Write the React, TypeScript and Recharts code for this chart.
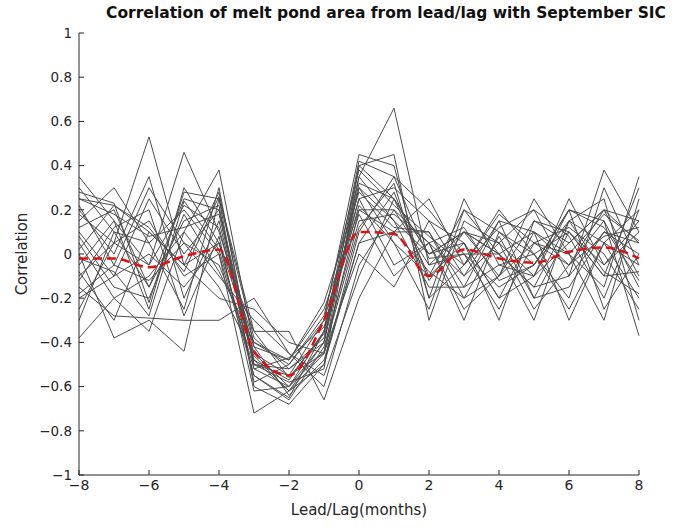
import React from "react";
import { LineChart, Line, XAxis, YAxis } from "recharts";

const lags = [-8, -7, -6, -5, -4, -3, -2, -1, 0, 1, 2, 3, 4, 5, 6, 7, 8];
const xTicks = [-8, -6, -4, -2, 0, 2, 4, 6, 8];
const yTicks = [-1, -0.8, -0.6, -0.4, -0.2, 0, 0.2, 0.4, 0.6, 0.8, 1];

// individual ensemble members (correlation per lead/lag month)
const run01 = [0.30, 0.10, -0.15, 0.25, 0.20, -0.45, -0.60, -0.40, 0.40, 0.25, -0.10, 0.05, -0.20, 0.10, -0.05, 0.20, 0.05];
const run02 = [0.25, 0.22, 0.10, -0.05, 0.28, -0.50, -0.55, -0.45, 0.35, 0.66, -0.05, 0.10, 0.00, -0.15, 0.15, 0.05, -0.20];
const run03 = [-0.10, 0.05, 0.53, -0.05, 0.05, -0.55, -0.65, -0.35, 0.25, 0.30, 0.15, -0.10, 0.05, 0.20, -0.10, 0.38, 0.10];
const run04 = [0.35, 0.15, -0.05, 0.46, 0.10, -0.40, -0.50, -0.30, 0.45, 0.40, -0.20, 0.25, -0.05, 0.00, 0.10, -0.10, 0.30];
const run05 = [-0.38, -0.20, -0.10, 0.10, 0.38, -0.42, -0.48, -0.25, 0.20, 0.20, 0.05, -0.30, 0.10, -0.05, 0.20, 0.15, -0.37];
const run06 = [0.00, -0.38, -0.30, -0.44, 0.25, -0.60, -0.68, -0.50, 0.10, 0.35, 0.20, 0.00, -0.25, 0.05, 0.00, -0.30, 0.25];
const run07 = [0.15, 0.30, 0.05, 0.20, 0.00, -0.72, -0.62, -0.40, 0.30, 0.15, -0.15, -0.15, 0.15, -0.20, -0.15, 0.10, 0.00];
const run08 = [-0.15, -0.28, -0.29, -0.30, -0.30, -0.20, -0.45, -0.55, -0.10, 0.25, 0.00, 0.05, -0.30, 0.15, 0.05, 0.20, -0.10];
const run09 = [0.20, 0.00, 0.35, -0.20, 0.15, -0.50, -0.58, -0.52, 0.40, 0.45, -0.30, 0.15, 0.05, -0.10, 0.25, -0.05, 0.15];
const run10 = [-0.05, 0.15, -0.25, 0.30, 0.05, -0.35, -0.35, -0.66, -0.20, 0.10, 0.25, -0.05, 0.20, 0.00, -0.20, 0.30, -0.05];
const run11 = [0.10, -0.10, 0.25, 0.00, 0.20, -0.48, -0.62, -0.45, 0.20, 0.10, 0.10, -0.20, -0.10, 0.25, 0.00, -0.15, 0.35];
const run12 = [0.28, 0.23, -0.22, 0.28, 0.25, -0.38, -0.52, -0.38, 0.30, 0.05, -0.25, 0.20, 0.00, -0.30, 0.15, 0.25, -0.30];
const run13 = [-0.25, 0.05, 0.15, -0.10, 0.00, -0.55, -0.66, -0.42, 0.15, 0.18, 0.05, -0.10, 0.15, 0.10, -0.30, 0.05, 0.20];
const run14 = [0.05, -0.20, -0.35, 0.10, -0.10, -0.30, -0.45, -0.60, -0.05, 0.20, -0.05, 0.00, -0.15, -0.05, 0.20, -0.25, 0.00];
const run15 = [-0.30, 0.10, 0.05, -0.25, 0.30, -0.52, -0.60, -0.35, 0.35, 0.15, 0.00, 0.10, 0.05, -0.25, -0.05, 0.15, -0.15];
const run16 = [0.22, -0.05, 0.30, 0.05, -0.05, -0.45, -0.55, -0.30, 0.25, -0.05, 0.05, -0.25, -0.10, 0.15, 0.10, -0.05, 0.10];
const run17 = [-0.20, -0.10, 0.00, -0.15, 0.05, -0.42, -0.64, -0.48, 0.05, 0.28, -0.12, 0.10, 0.00, -0.15, -0.10, 0.10, 0.05];
const run18 = [0.12, 0.20, -0.15, 0.15, 0.22, -0.58, -0.50, -0.28, 0.38, 0.22, 0.08, -0.05, 0.18, 0.05, 0.12, 0.00, -0.25];
const run19 = [-0.08, -0.30, 0.10, -0.05, -0.20, -0.25, -0.40, -0.45, 0.00, -0.15, 0.15, 0.05, -0.20, -0.10, 0.05, 0.20, 0.15];
const run20 = [0.18, 0.05, -0.05, 0.22, 0.12, -0.48, -0.57, -0.35, 0.22, 0.05, -0.10, 0.20, 0.10, 0.00, -0.25, 0.05, -0.05];
const run21 = [-0.12, 0.12, 0.20, -0.28, 0.08, -0.62, -0.60, -0.44, 0.12, 0.32, -0.20, -0.05, 0.12, 0.20, 0.08, -0.20, 0.20];
const run22 = [0.08, -0.15, -0.20, 0.18, -0.08, -0.40, -0.48, -0.22, 0.28, 0.12, 0.10, -0.15, -0.05, -0.10, 0.20, 0.12, -0.12];
const run23 = [0.25, 0.18, 0.08, 0.12, 0.18, -0.50, -0.52, -0.40, 0.32, 0.25, 0.00, 0.10, -0.10, 0.05, -0.05, 0.08, 0.12];
const run24 = [-0.18, -0.05, -0.12, 0.05, -0.15, -0.46, -0.62, -0.50, 0.05, 0.10, -0.08, -0.20, 0.08, -0.20, 0.10, -0.10, -0.08];
const run25 = [0.02, 0.22, 0.12, -0.08, 0.26, -0.35, -0.56, -0.36, 0.42, 0.35, -0.02, 0.00, 0.00, 0.10, 0.00, 0.18, 0.06];
const run26 = [-0.02, -0.08, -0.28, 0.24, 0.02, -0.52, -0.47, -0.33, 0.18, -0.10, 0.05, 0.12, -0.12, -0.05, 0.15, -0.08, -0.18];

// ensemble mean (red dashed)
const ensembleMean = [-0.02, -0.02, -0.06, -0.01, 0.02, -0.44, -0.55, -0.30, 0.10, 0.09, -0.10, 0.02, -0.02, -0.04, 0.01, 0.03, -0.02];

const runs = [
  run01, run02, run03, run04, run05, run06, run07, run08, run09, run10, run11, run12, run13,
  run14, run15, run16, run17, run18, run19, run20, run21, run22, run23, run24, run25, run26,
];

const chartData = lags.map((lag, i) => {
  const row: Record<string, number> = { lag, mean: ensembleMean[i] };
  runs.forEach((run, r) => {
    row[`r${r}`] = run[i];
  });
  return row;
});

const textColor = "#262626";
const fontFamily = "'DejaVu Sans', Verdana, sans-serif";

function fmtTick(v: number) {
  const s = String(Math.round(v * 10) / 10);
  return s.replace("-", "\u2212");
}

export default function App() {
  return (
    <div style={{ position: "absolute", left: 0, top: 0, width: 680, height: 527, background: "#fff" }}>
      <div
        style={{
          position: "absolute",
          left: 0,
          width: 680,
          top: 4,
          textAlign: "center",
          paddingLeft: 92,
          boxSizing: "border-box",
          fontFamily,
          fontWeight: "bold",
          fontSize: 15.5,
          color: "#111",
          whiteSpace: "nowrap",
        }}
      >
        Correlation of melt pond area from lead/lag with September SIC
      </div>
      <LineChart
        width={680}
        height={527}
        data={chartData}
        margin={{ top: 33, right: 41, bottom: 0, left: 0 }}
        style={{ position: "absolute", left: 0, top: 0 }}
      >
        <XAxis
          dataKey="lag"
          type="number"
          domain={[-8, 8]}
          ticks={xTicks}
          height={52}
          tickSize={-5}
          tickMargin={10}
          stroke="#262626"
          tick={{ fill: textColor, fontSize: 14, fontFamily }}
          tickFormatter={fmtTick}
          label={{
            content: ({ viewBox }: any) => (
              <text
                x={viewBox.x + viewBox.width / 2}
                y={viewBox.y + 40}
                textAnchor="middle"
                fill={textColor}
                fontSize={15}
                fontFamily={fontFamily}
              >
                Lead/Lag(months)
              </text>
            ),
          }}
        />
        <YAxis
          type="number"
          domain={[-1, 1]}
          ticks={yTicks}
          width={79}
          tickSize={-5}
          tickMargin={12}
          stroke="#262626"
          tick={{ fill: textColor, fontSize: 13.5, fontFamily }}
          tickFormatter={fmtTick}
          label={{
            content: ({ viewBox }: any) => {
              const cx = 22;
              const cy = viewBox.y + viewBox.height / 2;
              return (
                <text
                  x={cx}
                  y={cy}
                  transform={`rotate(-90 ${cx} ${cy})`}
                  textAnchor="middle"
                  dominantBaseline="central"
                  fill={textColor}
                  fontSize={15}
                  fontFamily={fontFamily}
                >
                  Correlation
                </text>
              );
            },
          }}
        />
        {runs.map((_, r) => (
          <Line
            key={r}
            dataKey={`r${r}`}
            stroke="#4d4d4d"
            strokeWidth={1}
            dot={false}
            activeDot={false}
            isAnimationActive={false}
            type="linear"
          />
        ))}
        <Line
          dataKey="mean"
          stroke="#e01010"
          strokeWidth={2.5}
          strokeDasharray="9 5"
          dot={false}
          activeDot={false}
          isAnimationActive={false}
          type="monotone"
        />
      </LineChart>
    </div>
  );
}
